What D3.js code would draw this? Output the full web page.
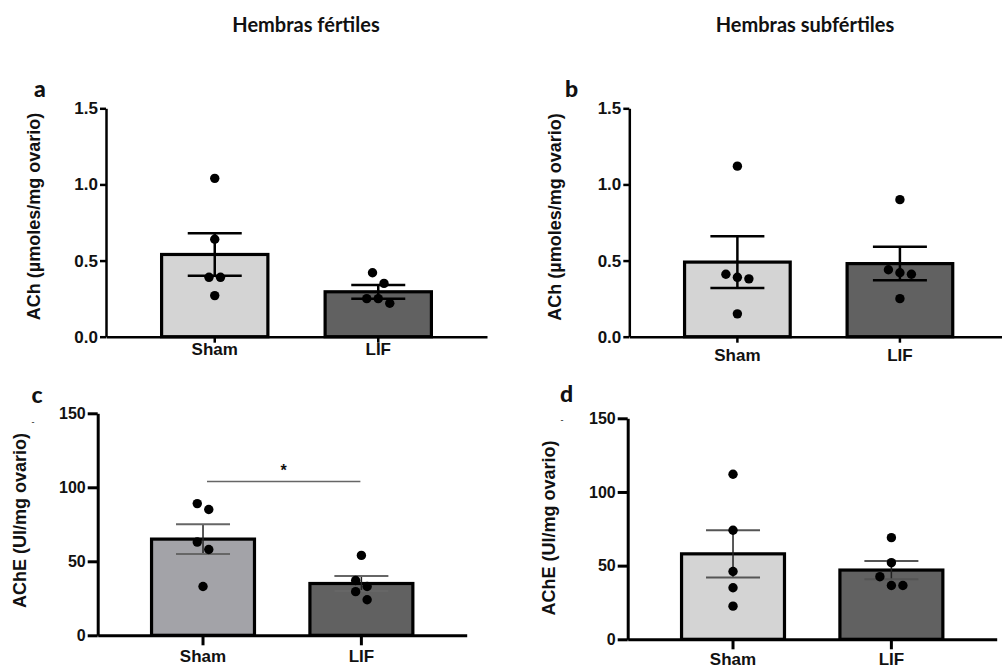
<!DOCTYPE html>
<html>
<head>
<meta charset="utf-8">
<script src="https://cdn.jsdelivr.net/npm/d3@7"></script>
<style>
  html, body { margin: 0; padding: 0; background: #fff; }
  svg { display: block; }
  text { font-family: "Liberation Sans", Arial, sans-serif; font-weight: bold; fill: #111; }
  .group-title { font-family: Lato, "Open Sans", sans-serif; font-weight: bold; }
</style>
</head>
<body>
<svg id="chart" width="1002" height="669"></svg>
<script>
// ---- data ----
const categories = ["Sham", "LIF"];
const groupTitles = ["Hembras fértiles", "Hembras subfértiles"];
const panelLetters = ["a", "b", "c", "d"];
const yTitles = ["ACh (µmoles/mg ovario)", "AChE (UI/mg ovario)"];

const achTicks = [0, 0.5, 1.0, 1.5];
const acheTicks = [0, 50, 100, 150];

// ACh, fertile females
const achFertSham = [1.04, 0.64, 0.39, 0.39, 0.27];
const achFertLif = [0.42, 0.35, 0.25, 0.25, 0.22];
const achFertMean = [0.54, 0.295];
const achFertSem = [0.14, 0.045];

// ACh, subfertile females
const achSubSham = [1.12, 0.41, 0.39, 0.38, 0.15];
const achSubLif = [0.90, 0.44, 0.42, 0.41, 0.25];
const achSubMean = [0.49, 0.48];
const achSubSem = [0.17, 0.11];

// AChE, fertile females
const acheFertSham = [89, 85, 63, 58, 33];
const acheFertLif = [54, 37, 33, 29.5, 24];
const acheFertMean = [65, 35];
const acheFertSem = [10, 5];

// AChE, subfertile females
const acheSubSham = [112, 74, 46, 35, 22.5];
const acheSubLif = [69, 52, 42.5, 36.5, 36.5];
const acheSubMean = [58, 47];
const acheSubSem = [16, 6.2];

// significance bracket (panel c)
const sigPanel = "c";
const sigLevel = 104;
const sigMark = "*";

// ---- layout ----
const svg = d3.select("#chart");
svg.append("rect").attr("width", 1002).attr("height", 669).attr("fill", "#fff");

const panels = [
  { id: panelLetters[0], points: [achFertSham, achFertLif], mean: achFertMean, sem: achFertSem, ticks: achTicks, fmt: d3.format(".1f"),
    title: yTitles[0], x0: 106, x1: 487, top: 108.3, bottom: 336.7, titleX: 40, titleY: 216.5,
    letterX: 40, letterY: 97, catDy: 19, tickLen: 6, fontTick: 17, axisW: 2.5,
    fills: ["#d4d4d4", "#616161"], errColor: "#000", errW: 2.5, capColor: "#000", capW: 2.5 },
  { id: panelLetters[1], points: [achSubSham, achSubLif], mean: achSubMean, sem: achSubSem, ticks: achTicks, fmt: d3.format(".1f"),
    title: yTitles[0], x0: 629.3, x1: 1008, top: 108.3, bottom: 336.7, titleX: 561, titleY: 217,
    letterX: 571.5, letterY: 97, catDy: 25, tickLen: 6, fontTick: 17, axisW: 2.5,
    fills: ["#d4d4d4", "#616161"], errColor: "#000", errW: 2.5, capColor: "#000", capW: 2.5 },
  { id: panelLetters[2], points: [acheFertSham, acheFertLif], mean: acheFertMean, sem: acheFertSem, ticks: acheTicks, fmt: d3.format("d"),
    title: yTitles[1], x0: 97.7, x1: 466.7, top: 413.3, bottom: 635.3, titleX: 26, titleY: 520.5,
    letterX: 37, letterY: 403, catDy: 28, tickLen: 10, fontTick: 16, axisW: 3,
    fills: ["#a3a3a8", "#616161"], errColor: "#222", errW: 1.5, capColor: "#666", capW: 2,
    dash: [33, 422] },
  { id: panelLetters[3], points: [acheSubSham, acheSubLif], mean: acheSubMean, sem: acheSubSem, ticks: acheTicks, fmt: d3.format("d"),
    title: yTitles[1], x0: 627.7, x1: 996.7, top: 418.3, bottom: 639.3, titleX: 555, titleY: 528,
    letterX: 566.5, letterY: 402, catDy: 27, tickLen: 10, fontTick: 16, axisW: 3,
    fills: ["#d4d4d4", "#616161"], errColor: "#222", errW: 1.5, capColor: "#555", capW: 2,
    dash: [562, 420] }
];

// group headings
svg.append("text").attr("class", "group-title").attr("x", 306).attr("y", 32)
  .attr("text-anchor", "middle").attr("font-size", 20).text(groupTitles[0]);
svg.append("text").attr("class", "group-title").attr("x", 805).attr("y", 32)
  .attr("text-anchor", "middle").attr("font-size", 20).text(groupTitles[1]);

// spread points that share a row horizontally, highest values on the left
function swarm(values, y, threshold, spacing) {
  const pts = values.map(v => ({ v, py: y(v) })).sort((a, b) => a.py - b.py);
  let i = 0;
  while (i < pts.length) {
    const start = pts[i].py;
    const row = [pts[i]];
    let j = i + 1;
    while (j < pts.length && pts[j].py - start < threshold) row.push(pts[j++]);
    row.forEach((p, k) => { p.dx = (k - (row.length - 1) / 2) * spacing; });
    i = j;
  }
  return pts;
}

panels.forEach(p => {
  const g = svg.append("g");
  const ymax = p.ticks[p.ticks.length - 1];
  const y = d3.scaleLinear().domain([0, ymax]).range([p.bottom, p.top]);
  const x = d3.scaleBand().domain(categories).range([p.x0, p.x1])
    .paddingInner(0.35).paddingOuter(0.34);
  const bw = x.bandwidth();
  const capHalf = 27;

  // bars
  g.selectAll("rect.bar").data(categories).join("rect")
    .attr("class", "bar")
    .attr("x", d => x(d))
    .attr("width", bw)
    .attr("y", (d, i) => y(p.mean[i]))
    .attr("height", (d, i) => p.bottom - y(p.mean[i]))
    .attr("fill", (d, i) => p.fills[i])
    .attr("stroke", "#000")
    .attr("stroke-width", 3.2);

  // y axis
  const yAxis = d3.axisLeft(y).tickValues(p.ticks).tickFormat(p.fmt)
    .tickSize(p.tickLen).tickSizeOuter(0).tickPadding(2);
  const ya = g.append("g").attr("transform", `translate(${p.x0},0)`).call(yAxis);
  ya.select(".domain").attr("stroke", "#000").attr("stroke-width", p.axisW);
  ya.selectAll(".tick line").attr("stroke", "#000").attr("stroke-width", p.axisW);
  ya.selectAll(".tick text").attr("font-size", p.fontTick).attr("fill", "#111");

  // x axis
  const xAxis = d3.axisBottom(x).tickSize(p.tickLen).tickSizeOuter(0).tickPadding(p.catDy - p.tickLen - 13);
  const xa = g.append("g").attr("transform", `translate(0,${p.bottom})`).call(xAxis);
  xa.select(".domain").attr("stroke", "#000").attr("stroke-width", p.axisW);
  xa.selectAll(".tick line").attr("stroke", "#000").attr("stroke-width", p.axisW);
  xa.selectAll(".tick text").attr("font-size", 17).attr("fill", "#111");

  // error bars (mean ± SEM)
  categories.forEach((c, i) => {
    const cx = x(c) + bw / 2;
    const hi = y(p.mean[i] + p.sem[i]);
    const lo = y(p.mean[i] - p.sem[i]);
    g.append("line").attr("x1", cx).attr("x2", cx).attr("y1", hi).attr("y2", lo)
      .attr("stroke", p.errColor).attr("stroke-width", p.errW);
    [hi, lo].forEach(yy => {
      g.append("line").attr("x1", cx - capHalf).attr("x2", cx + capHalf)
        .attr("y1", yy).attr("y2", yy)
        .attr("stroke", p.capColor).attr("stroke-width", p.capW);
    });
  });

  // individual values
  categories.forEach((c, i) => {
    const cx = x(c) + bw / 2;
    const pts = swarm(p.points[i], y, 10.8, 11.5);
    g.selectAll(null).data(pts).join("circle")
      .attr("cx", d => cx + d.dx)
      .attr("cy", d => d.py)
      .attr("r", 4.7)
      .attr("fill", "#000");
  });

  // y axis title
  g.append("text")
    .attr("transform", `translate(${p.titleX},${p.titleY}) rotate(-90)`)
    .attr("text-anchor", "middle")
    .attr("font-size", 18)
    .text(p.title);

  // panel letter
  g.append("text").attr("x", p.letterX).attr("y", p.letterY)
    .attr("text-anchor", "middle").attr("font-size", 23)
    .style("font-family", "Lato, sans-serif").style("font-weight", "900")
    .text(p.id);

  if (p.dash) {
    g.append("text").attr("x", p.dash[0]).attr("y", p.dash[1] + 3)
      .attr("text-anchor", "middle").attr("font-size", 9).style("font-weight", "normal")
      .attr("fill", "#444").text("-");
  }

  // significance bracket
  if (p.id === sigPanel) {
    const xa0 = x(categories[0]) + bw / 2 + 4;
    const xa1 = x(categories[1]) + bw / 2 - 1;
    const ys = y(sigLevel);
    g.append("line").attr("x1", xa0).attr("x2", xa1).attr("y1", ys).attr("y2", ys)
      .attr("stroke", "#666").attr("stroke-width", 1.5);
    g.append("text").attr("x", (xa0 + xa1) / 2).attr("y", ys - 5)
      .attr("text-anchor", "middle").attr("font-size", 16)
      .text(sigMark);
  }
});
</script>
</body>
</html>
